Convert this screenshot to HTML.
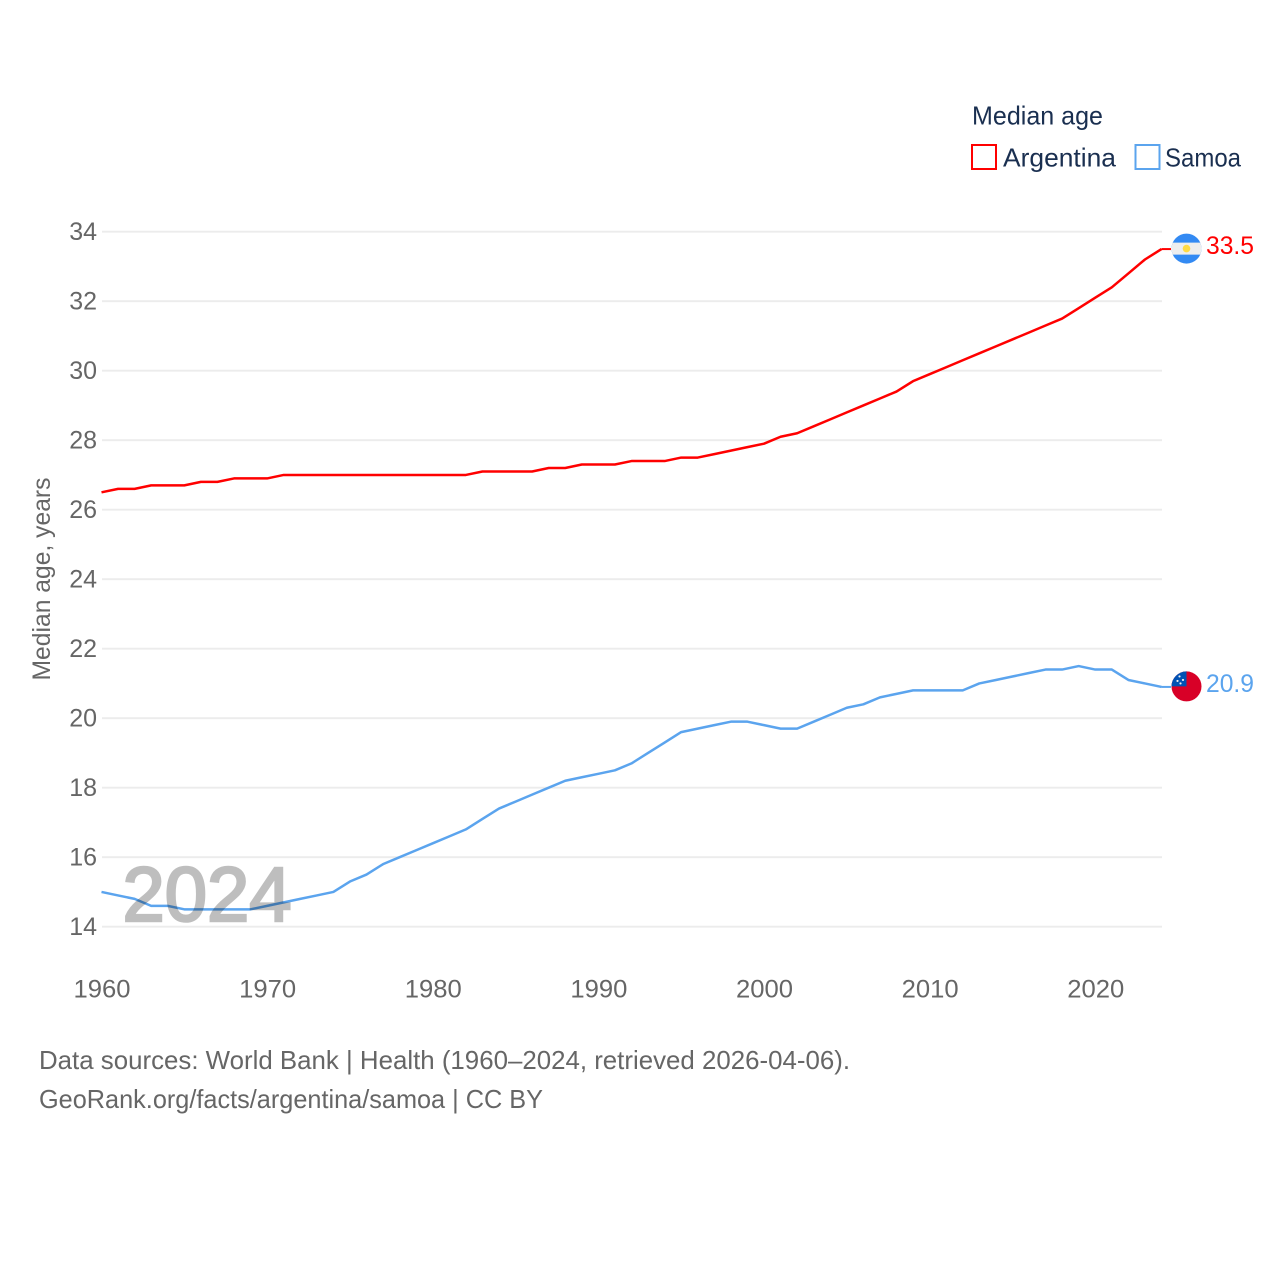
<!DOCTYPE html>
<html lang="en">
<head>
<meta charset="utf-8">
<title>Median age: Argentina and Samoa</title>
<style>
  html, body { margin: 0; padding: 0; background: #fff; }
  svg { display: block; font-family: "Liberation Sans", sans-serif; }
</style>
</head>
<body>
<svg id="chart" xmlns="http://www.w3.org/2000/svg" width="1280" height="1280" viewBox="0 0 1280 1280">
  <rect x="0" y="0" width="1280" height="1280" fill="#fff"/>
  <g id="grid"></g>
  <g id="yticks"></g>
  <g id="xticks"></g>
  <text transform="translate(50,579) rotate(-90)" text-anchor="middle" font-size="25" fill="#666" textLength="203" lengthAdjust="spacingAndGlyphs">Median age, years</text>
  <g id="series"></g>
  <text x="122.5" y="921" font-size="77" fill="#000" stroke="#000" stroke-width="2.6" opacity="0.25" textLength="169" lengthAdjust="spacingAndGlyphs">2024</text>
  <g id="ends"></g>

  <g>
    <text x="972" y="124.5" font-size="26" fill="#1a2f50" textLength="131" lengthAdjust="spacingAndGlyphs">Median age</text>
    <g>
      <rect x="972" y="145" width="24" height="24" fill="none" stroke="#ff0000" stroke-width="2"/>
      <text x="1003" y="166.5" font-size="26" fill="#1a2f50" textLength="113" lengthAdjust="spacingAndGlyphs">Argentina</text>
    </g>
    <g>
      <rect x="1135.5" y="145" width="24" height="24" fill="none" stroke="#5ba4ee" stroke-width="2"/>
      <text x="1165" y="166.5" font-size="26" fill="#1a2f50" textLength="76" lengthAdjust="spacingAndGlyphs">Samoa</text>
    </g>
  </g>

  <text x="39" y="1069" font-size="26" fill="#666" textLength="811" lengthAdjust="spacingAndGlyphs">Data sources: World Bank | Health (1960–2024, retrieved 2026-04-06).</text>
  <text x="39" y="1108" font-size="26" fill="#666" textLength="504" lengthAdjust="spacingAndGlyphs">GeoRank.org/facts/argentina/samoa | CC BY</text>
</svg>

<script>
const years = [1960,1961,1962,1963,1964,1965,1966,1967,1968,1969,1970,1971,1972,1973,1974,1975,1976,1977,1978,1979,1980,1981,1982,1983,1984,1985,1986,1987,1988,1989,1990,1991,1992,1993,1994,1995,1996,1997,1998,1999,2000,2001,2002,2003,2004,2005,2006,2007,2008,2009,2010,2011,2012,2013,2014,2015,2016,2017,2018,2019,2020,2021,2022,2023,2024];
const argentinaValues = [26.5,26.6,26.6,26.7,26.7,26.7,26.8,26.8,26.9,26.9,26.9,27.0,27.0,27.0,27.0,27.0,27.0,27.0,27.0,27.0,27.0,27.0,27.0,27.1,27.1,27.1,27.1,27.2,27.2,27.3,27.3,27.3,27.4,27.4,27.4,27.5,27.5,27.6,27.7,27.8,27.9,28.1,28.2,28.4,28.6,28.8,29.0,29.2,29.4,29.7,29.9,30.1,30.3,30.5,30.7,30.9,31.1,31.3,31.5,31.8,32.1,32.4,32.8,33.2,33.5];
const samoaValues = [15.0,14.9,14.8,14.6,14.6,14.5,14.5,14.5,14.5,14.5,14.6,14.7,14.8,14.9,15.0,15.3,15.5,15.8,16.0,16.2,16.4,16.6,16.8,17.1,17.4,17.6,17.8,18.0,18.2,18.3,18.4,18.5,18.7,19.0,19.3,19.6,19.7,19.8,19.9,19.9,19.8,19.7,19.7,19.9,20.1,20.3,20.4,20.6,20.7,20.8,20.8,20.8,20.8,21.0,21.1,21.2,21.3,21.4,21.4,21.5,21.4,21.4,21.1,21.0,20.9];
const yTickValues = [14,16,18,20,22,24,26,28,30,32,34];
const xTickValues = [1960,1970,1980,1990,2000,2010,2020];

const NS = 'http://www.w3.org/2000/svg';
function xScale(year) { return 101.5 + (year - 1960) * (1161.5 - 101.5) / 64; }
function yScale(value) { return 926.7 - (value - 14) * (926.7 - 231.7) / 20; }
function make(tag, attrs, parent) {
  const el = document.createElementNS(NS, tag);
  for (const key in attrs) el.setAttribute(key, attrs[key]);
  parent.appendChild(el);
  return el;
}

const gridGroup = document.getElementById('grid');
const yGroup = document.getElementById('yticks');
const xGroup = document.getElementById('xticks');
const seriesGroup = document.getElementById('series');
const endsGroup = document.getElementById('ends');

yTickValues.forEach(function (tick) {
  const line = make('line', { x1: 102, x2: 1162, y1: yScale(tick), y2: yScale(tick), stroke: '#ececec', 'stroke-width': 1.8 }, gridGroup);
  
  
  const label = make('text', { x: 97, y: yScale(tick) + 8.5, 'text-anchor': 'end', 'font-size': 25, fill: '#666' }, yGroup);
  label.textContent = tick;
  
  
});

xTickValues.forEach(function (tick) {
  const label = make('text', { x: xScale(tick) + 0.5, y: 997.5, 'text-anchor': 'middle', 'font-size': 25, fill: '#666', textLength: 57, lengthAdjust: 'spacingAndGlyphs' }, xGroup);
  label.textContent = tick;
  
  
});

function drawLine(values, colour, name) {
  const points = values.map(function (v, i) { return xScale(years[i]).toFixed(2) + ',' + yScale(v).toFixed(2); }).join(' ');
  const line = make('polyline', { points: points, fill: 'none', stroke: colour, 'stroke-width': 2.5, 'stroke-linejoin': 'round' }, seriesGroup);
  
  
}
drawLine(argentinaValues, '#ff0000', 'line-argentina');
drawLine(samoaValues, '#5ba4ee', 'line-samoa');

function drawEnd(values, colour, key) {
  const last = values[values.length - 1];
  const lastYear = years[years.length - 1];
  const cy = yScale(last) - 0.5;
  const group = make('g', {}, endsGroup);
  
  
  const connector = make('line', { x1: xScale(lastYear), x2: 1171, y1: yScale(last), y2: yScale(last), stroke: colour, 'stroke-width': 2 }, group);
  
  
  const flag = make('g', { transform: 'translate(1186.5,' + cy + ')' }, group);
  
  
  if (key === 'argentina') {
    make('circle', { r: 15, fill: '#338af3' }, flag);
    make('path', { d: 'M-13.7,-6 H13.7 A15,15 0 0 1 13.7,6 H-13.7 A15,15 0 0 1 -13.7,-6 Z', fill: '#eeeeee' }, flag);
    make('circle', { r: 3.8, fill: '#ffda44' }, flag);
  } else {
    make('circle', { r: 15, fill: '#d80027' }, flag);
    make('path', { d: 'M0,0 V-15 A15,15 0 0 0 -15,0 Z', fill: '#0052b4' }, flag);
    make('circle', { cx: -7, cy: -10, r: 1.1, fill: '#f0f0f0' }, flag);
    make('circle', { cx: -3.5, cy: -6.5, r: 1.1, fill: '#f0f0f0' }, flag);
    make('circle', { cx: -9, cy: -5.5, r: 1.1, fill: '#f0f0f0' }, flag);
    make('circle', { cx: -6, cy: -3, r: 1.1, fill: '#f0f0f0' }, flag);
  }
  const label = make('text', { x: 1206, y: yScale(last) + 5, 'font-size': 25, fill: colour, textLength: 48, lengthAdjust: 'spacingAndGlyphs' }, group);
  label.textContent = last.toFixed(1);
  
  
}
drawEnd(argentinaValues, '#ff0000', 'argentina');
drawEnd(samoaValues, '#5ba4ee', 'samoa');
</script>
</body>
</html>
